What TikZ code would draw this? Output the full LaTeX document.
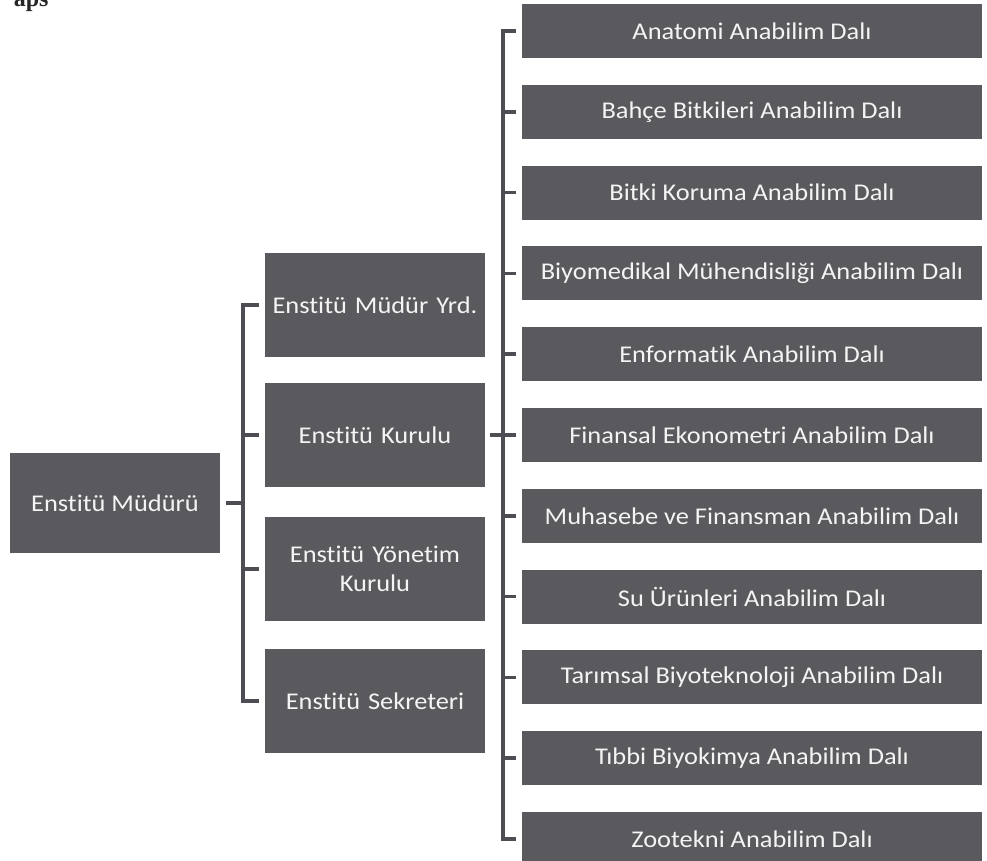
\documentclass[tikz,border=0pt]{standalone}
\usepackage{fontspec}
\setmainfont{Carlito}[Ligatures={NoCommon}, FakeStretch=1.1]
\newfontfamily\headfont{Liberation Serif}
\definecolor{boxgrey}{HTML}{5A595E}
\definecolor{linegrey}{HTML}{4E4D53}
\definecolor{boxtext}{HTML}{F4F4F4}
\begin{document}
\begin{tikzpicture}[x=1pt,y=-1pt,
  orgbox/.style={fill=boxgrey, draw=none, text=boxtext, inner sep=0pt, align=center,
    font=\fontsize{24}{29}\selectfont},
  deptbox/.style={orgbox, minimum width=460pt, minimum height=54pt},
  midbox/.style={orgbox, minimum width=220pt, minimum height=104pt, text width=214pt},
  topbox/.style={orgbox, minimum width=210pt, minimum height=100pt},
  conn/.style={draw=linegrey, line width=3.6pt, line join=miter}]
\useasboundingbox (0,0) rectangle (987,861);
\clip (0,0) rectangle (987,861);
\fill[white] (0,0) rectangle (987,861);

\node[anchor=base east, font=\headfont\bfseries\fontsize{24}{28}\selectfont, text=black!85] (head) at (52,7) {aps};

% left
\node[topbox] (mud) at (115,503) {Enstitü Müdürü};

% middle
\node[midbox] (yrd) at (375,305) {Enstitü Müdür Yrd.};
\node[midbox] (kur) at (375,435) {Enstitü Kurulu};
\node[midbox] (yon) at (375,569) {Enstitü Yönetim\\Kurulu};
\node[midbox] (sek) at (375,701) {Enstitü Sekreteri};

% right
\foreach \i/\nm/\txt in {0/d0/Anatomi Anabilim Dalı,
  1/d1/Bahçe Bitkileri Anabilim Dalı,
  2/d2/Bitki Koruma Anabilim Dalı,
  3/d3/Biyomedikal Mühendisliği Anabilim Dalı,
  4/d4/Enformatik Anabilim Dalı,
  5/d5/Finansal Ekonometri Anabilim Dalı,
  6/d6/Muhasebe ve Finansman Anabilim Dalı,
  7/d7/Su Ürünleri Anabilim Dalı,
  8/d8/Tarımsal Biyoteknoloji Anabilim Dalı,
  9/d9/Tıbbi Biyokimya Anabilim Dalı,
  10/d10/Zootekni Anabilim Dalı}
  {\node[deptbox] (\nm) at (752,{31+80.8*\i}) {\txt};}

% spines
\coordinate (ms) at (243,0);
\coordinate (rs) at (503,0);

% left -> middle
\draw[conn, shorten <=6pt] (mud.east) -- (mud.east -| ms);
\draw[conn, shorten <=6pt, shorten >=6pt] (yrd.west) -- (yrd.west -| ms) -- (sek.west -| ms) -- (sek.west);
\draw[conn, shorten <=6pt] (kur.west) -- (kur.west -| ms);
\draw[conn, shorten <=6pt] (yon.west) -- (yon.west -| ms);

% middle -> right
\draw[conn, shorten <=5pt, shorten >=6pt] (kur.east) -- (d5.west);
\draw[conn, shorten <=6pt, shorten >=6pt] (d0.west) -- (d0.west -| rs) -- (d10.west -| rs) -- (d10.west);
\foreach \nm in {d1,d2,d3,d4,d6,d7,d8,d9}
  {\draw[conn, shorten <=6pt] (\nm.west) -- (\nm.west -| rs);}
\end{tikzpicture}
\end{document}
